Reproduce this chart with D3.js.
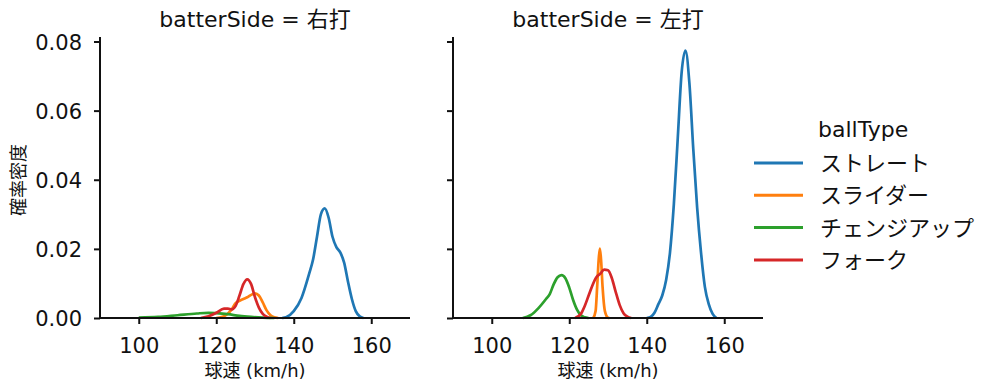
<!DOCTYPE html>
<html>
<head>
<meta charset="utf-8">
<script src="https://cdn.jsdelivr.net/npm/d3@7"></script>
<style>
  body { margin: 0; background: #fff; }
  text { font-family: "DejaVu Sans", "Noto Sans CJK JP", sans-serif; fill: #111; }
</style>
</head>
<body>
<svg id="canvas" width="999" height="391"></svg>
<script>
// density curves: [speed km/h, density]
const ballTypes = ["ストレート", "スライダー", "チェンジアップ", "フォーク"]
const colors = ["#1f77b4", "#ff7f0e", "#2ca02c", "#d62728"]
const panels = ["右打", "左打"]
const xTicks = [100, 120, 140, 160]
const yTicks = [0, 0.02, 0.04, 0.06, 0.08]

const rStraight = [[137,0],[138,0.0002],[140,0.002],[142,0.0058],[144,0.0129],[145,0.017],[146,0.0235],[147,0.030],[148,0.0317],[149,0.029],[150,0.0235],[151,0.0205],[152,0.019],[153,0.016],[154,0.0105],[155,0.0055],[156,0.002],[157,0.0005],[158,0]]
const rSlider = [[120,0],[122,0.0005],[124,0.0025],[125,0.0043],[126,0.005],[127,0.0055],[128,0.006],[129,0.0067],[130,0.0071],[131,0.0065],[132,0.0045],[133,0.0022],[134,0.0008],[135,0.0002],[136,0]]
const rChange = [[100,0.0001],[105,0.0003],[110,0.0008],[115,0.0013],[118,0.0015],[120,0.0014],[123,0.0011],[126,0.0006],[129,0.0003],[132,0.0001],[135,0]]
const rFork = [[116,0],[118,0.0005],[120,0.0015],[122,0.0027],[123,0.0027],[124,0.0025],[125,0.0035],[126,0.0065],[127,0.0098],[128,0.0112],[129,0.0098],[130,0.006],[131,0.003],[132,0.0012],[133,0.0004],[134,0]]

const lStraight = [[140,0],[141,0.0003],[142,0.0015],[143,0.004],[144,0.0065],[145,0.011],[146,0.019],[147,0.033],[148,0.052],[149,0.071],[150,0.0774],[151,0.068],[152,0.049],[153,0.032],[154,0.019],[155,0.009],[156,0.004],[157,0.0012],[158,0]]
const lSlider = [[126.2,0],[126.8,0.002],[127.2,0.009],[127.6,0.017],[127.9,0.0201],[128.2,0.017],[128.6,0.009],[129.2,0.002],[130,0.0001],[130.4,0]]
const lChange = [[108,0],[110,0.0008],[112,0.0028],[114,0.0055],[115,0.007],[116,0.0098],[117,0.0118],[118,0.0124],[119,0.0115],[120,0.0088],[121,0.0052],[122,0.0024],[123,0.0008],[124,0.0002],[125,0]]
const lFork = [[121.5,0],[123,0.0012],[124,0.0035],[125,0.0065],[126,0.0095],[127,0.0118],[128,0.0128],[129,0.014],[130,0.0138],[131,0.0115],[132,0.0075],[133,0.0038],[134,0.0014],[135,0.0004],[136,0]]

const curves = [[rStraight, rSlider, rChange, rFork], [lStraight, lSlider, lChange, lFork]]

const svg = d3.select("#canvas")
const panelLeft = [100, 453]
const panelWidth = 310
const plotTop = 37, plotBottom = 318

const y = d3.scaleLinear().domain([0, 0.0813]).range([plotBottom, plotTop])

panels.forEach(function(side, i) {
  const x = d3.scaleLinear().domain([90, 170]).range([panelLeft[i], panelLeft[i] + panelWidth])
  const g = svg.append("g")

  const line = d3.line()
    .x(function(d) { return x(d[0]) })
    .y(function(d) { return y(d[1]) })
    .curve(d3.curveMonotoneX)

  g.selectAll("path.kde")
    .data(curves[i])
    .enter().append("path")
    .attr("class", "kde")
    .attr("d", line)
    .attr("fill", "none")
    .attr("stroke", function(d, j) { return colors[j] })
    .attr("stroke-width", 2.7)
    .attr("stroke-linejoin", "round")

  const xAxis = g.append("g")
    .attr("transform", "translate(0," + plotBottom + ")")
    .call(d3.axisBottom(x).tickValues(xTicks).tickSize(6).tickFormat(d3.format("d")))
  const yAxis = g.append("g")
    .attr("transform", "translate(" + panelLeft[i] + ",0)")
    .call(d3.axisLeft(y).tickValues(yTicks).tickSize(6)
      .tickFormat(i == 0 ? d3.format(".2f") : ""))

  ;[xAxis, yAxis].forEach(function(a) {
    a.select(".domain").attr("stroke", "#111").attr("stroke-width", 2).attr("d",
      a === xAxis ? "M" + panelLeft[i] + ",0H" + (panelLeft[i] + panelWidth)
                  : "M0," + plotBottom + "V" + plotTop)
    a.selectAll(".tick line").attr("stroke", "#111").attr("stroke-width", 2)
    a.selectAll(".tick text").style("font-size", "21px").attr("fill", "#111")
      .style("font-family", "'DejaVu Sans', sans-serif")
  })
  xAxis.selectAll(".tick text").attr("y", 35).attr("dy", 0)
  yAxis.selectAll(".tick text").attr("x", -18).attr("dy", "0.36em")

  g.append("text")
    .attr("x", panelLeft[i] + panelWidth / 2)
    .attr("y", 27)
    .attr("text-anchor", "middle")
    .style("font-size", "22px")
    .text("batterSide = " + side)

  g.append("text")
    .attr("x", panelLeft[i] + panelWidth / 2)
    .attr("y", 377)
    .attr("text-anchor", "middle")
    .style("font-size", "18px")
    .text("球速 (km/h)")
})

svg.append("text")
  .attr("transform", "translate(25,180) rotate(-90)")
  .attr("text-anchor", "middle")
  .style("font-size", "18px")
  .text("確率密度")

// legend
const legend = svg.append("g")
legend.append("text")
  .attr("x", 818).attr("y", 137)
  .style("font-size", "22px")
  .text("ballType")

const item = legend.selectAll("g.item")
  .data(ballTypes)
  .enter().append("g")
  .attr("class", "item")
  .attr("transform", function(d, j) { return "translate(0," + (163 + j * 32.3) + ")" })
item.append("line")
  .attr("x1", 754).attr("x2", 803)
  .attr("stroke", function(d, j) { return colors[j] })
  .attr("stroke-width", 3)
item.append("text")
  .attr("x", 820).attr("dy", "0.36em")
  .style("font-size", "22px")
  .text(function(d) { return d })
</script>
</body>
</html>
